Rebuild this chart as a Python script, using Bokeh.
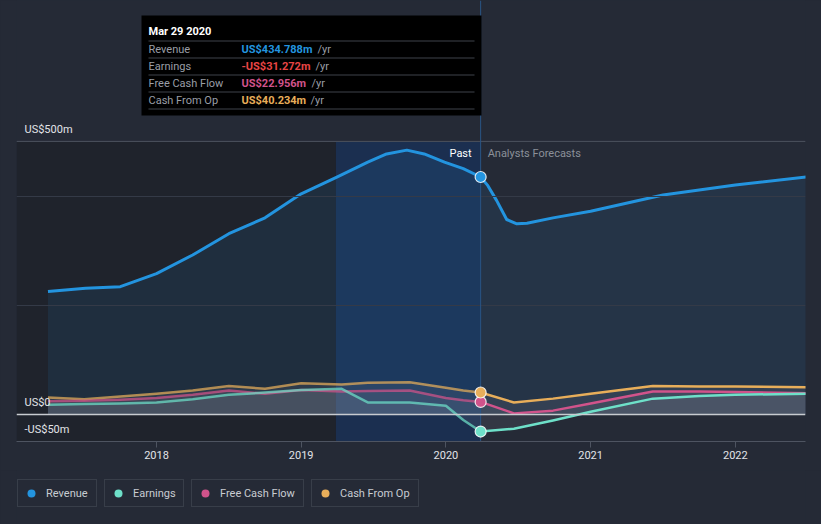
import numpy as np
from bokeh.plotting import figure
from bokeh.layouts import column
from bokeh.models import (Range1d, FixedTicker, Grid, Span, Label, BoxAnnotation,
                          Legend, LegendItem)
from bokeh.embed import file_html
from bokeh.resources import INLINE

# ---------------- data ----------------
rev_x = [2017.25, 2017.51, 2017.75, 2018.0, 2018.25, 2018.5, 2018.75, 2019.0, 2019.25, 2019.46,
         2019.59, 2019.73, 2019.85, 2019.99, 2020.12, 2020.24, 2020.29, 2020.35, 2020.42, 2020.49,
         2020.56, 2020.74, 2021.0, 2021.5, 2022.0, 2022.49]
revenue = [225, 231, 234, 258, 292, 331, 360, 404, 435, 462,
           477, 484, 477, 462, 450, 434.788, 419, 392, 357, 349,
           350, 360, 372, 402, 420, 435]

sm_x = [2017.25, 2017.5, 2017.75, 2018.0, 2018.25, 2018.5, 2018.75, 2019.0, 2019.28, 2019.46,
        2019.75, 2020.0, 2020.12, 2020.24, 2020.47, 2020.74, 2021.0, 2021.43, 2021.75, 2022.0, 2022.49]
earnings = [18, 19, 20, 22, 28, 36, 40, 45, 47, 22,
            22, 16, -10, -31.272, -26, -11, 5, 29, 34, 36, 38]
fcf = [24, 25, 27, 30, 36, 44, 38, 45, 42, 43,
       44, 30, 26, 22.956, 2, 7, 20, 42, 42, 41, 39]
cfo = [31, 28, 33, 38, 44, 52, 47, 57, 55, 58,
       59, 49, 44, 40.234, 22, 29, 38, 52, 51, 51, 50]

hover_x = 2020.24
hover_date = "Mar 29 2020"
past_start = 2019.24
year_ticks = [2018, 2019, 2020, 2021, 2022]
grid_ticks = [200, 400, 500]
y_labels = {500: "US$500m", 0: "US$0", -50: "-US$50m"}
series_names = ["Revenue", "Earnings", "Free Cash Flow", "Cash From Op"]
series_values_txt = ["US$434.788m", "-US$31.272m", "US$22.956m", "US$40.234m"]

# ---------------- style ----------------
BG = "#252a36"
C_REV = "#2394df"
C_EARN = "#6ee0c9"
C_FCF = "#d1538b"
C_CFO = "#e8ae5a"
C_EARN_TXT = "#e84545"
FONT = "Roboto"

X0, X1 = 2017.0325, 2022.485
Y0, Y1 = -49.5, 758.0
FL, FW, FH = 16, 789, 441
MAIN_H = 470


def sx(px):
    return X0 + (px - FL) / FW * (X1 - X0)


def sy(py):
    return Y1 - py / FH * (Y1 - Y0)


p = figure(width=821, height=MAIN_H, x_range=Range1d(X0, X1), y_range=Range1d(Y0, Y1),
           output_backend="svg", toolbar_location=None, y_axis_location=None,
           min_border_left=FL, min_border_right=821 - FL - FW, min_border_top=0,
           min_border_bottom=MAIN_H - FH)
p.background_fill_color = BG
p.border_fill_color = BG
p.outline_line_color = None
p.xgrid.visible = False
p.ygrid.visible = False

# background regions
p.quad(left=[X0], right=[past_start], bottom=[Y0], top=[500], fill_color="#1f232c",
       line_color=None, level="underlay")
p.quad(left=[past_start], right=[hover_x], bottom=[Y0], top=[500], fill_color="#1b2f50",
       line_color=None, level="underlay")

grid = Grid(dimension=1, ticker=FixedTicker(ticks=grid_ticks), grid_line_color="#343a47",
            grid_line_width=1, level="glyph")
p.add_layout(grid, "center")
top_grid = Span(location=500, dimension="width", line_color="#4a505c", line_width=1, level="glyph")
p.add_layout(top_grid)

vline = Span(location=hover_x, dimension="height", line_color="#2a5585", line_width=1, level="glyph")
p.add_layout(vline)

# areas
p.varea(x=rev_x, y1=0, y2=revenue, fill_color=C_REV, fill_alpha=0.1)
for vals in (cfo, fcf, earnings):
    p.varea(x=sm_x, y1=0, y2=vals, fill_color="#9aa0aa", fill_alpha=0.12)

# lines (past part of the small series a little muted, as in the reference)
hi = sm_x.index(hover_x)
hr = rev_x.index(hover_x)
p.line(rev_x, revenue, line_color=C_REV, line_width=3, line_join="round")
for vals, col in ((cfo, C_CFO), (fcf, C_FCF), (earnings, C_EARN)):
    p.line(sm_x[:hi + 1], vals[:hi + 1], line_color=col, line_width=2.5, line_alpha=0.72,
           line_join="round")
    p.line(sm_x[hi:], vals[hi:], line_color=col, line_width=2.5, line_join="round")

zero = Span(location=0, dimension="width", line_color="#c8cbd0", line_width=1.5)
p.add_layout(zero)

# hover dots
dot_vals = [revenue[hr], earnings[hi], fcf[hi], cfo[hi]]
dot_cols = [C_REV, C_EARN, C_FCF, C_CFO]
p.scatter(x=[hover_x] * 4, y=dot_vals, fill_color=dot_cols, line_color="white",
          line_alpha=0.85, line_width=1.2, size=11, level="overlay")

# x axis
ax = p.xaxis[0]
ax.ticker = FixedTicker(ticks=year_ticks)
ax.axis_line_color = "#4e5461"
ax.major_tick_line_color = "#4e5461"
ax.major_tick_out = 6
ax.major_tick_in = 0
ax.minor_tick_line_color = None
ax.major_label_text_color = "#e2e4e8"
ax.major_label_text_font = FONT
ax.major_label_text_font_size = "11px"
ax.major_label_standoff = 3

# y labels inside
for v, t in y_labels.items():
    yv = v if v >= 0 else 0
    yo = 12 if v >= 0 else -15
    p.add_layout(Label(x=X0, y=yv, x_offset=8, y_offset=yo, text=t, text_color="#e2e4e8",
                       text_font=FONT, text_font_size="11px", text_baseline="middle"))

# Past / forecast labels
p.add_layout(Label(x=hover_x, y=500, x_offset=-9, y_offset=-12, text="Past", text_align="right",
                   text_baseline="middle", text_color="#ffffff", text_font=FONT,
                   text_font_size="11px"))
p.add_layout(Label(x=hover_x, y=500, x_offset=7, y_offset=-12, text="Analysts Forecasts",
                   text_align="left", text_baseline="middle", text_color="#8b9099",
                   text_font=FONT, text_font_size="11px"))

# tooltip
p.add_layout(BoxAnnotation(left=sx(141), right=sx(481), top=sy(15), bottom=sy(115),
                           fill_color="#000000", fill_alpha=1, line_color=None, level="overlay"))
for py in (40, 57, 74, 91, 108):
    p.add_layout(BoxAnnotation(left=sx(148), right=sx(474), top=sy(py), bottom=sy(py + 1),
                               fill_color="#3f434b", fill_alpha=1, line_color=None,
                               level="overlay"))
p.add_layout(Label(x=sx(148), y=sy(31), text=hover_date, text_color="#ffffff", text_font=FONT,
                   text_font_size="11px", text_font_style="bold", text_baseline="middle",
                   level="overlay"))
val_cols = [C_REV, C_EARN_TXT, C_FCF, C_CFO]
yr_px = [317, 315, 311, 310]
for i, name in enumerate(series_names):
    cy = sy(48.5 + 17 * i)
    p.add_layout(Label(x=sx(148), y=cy, text=name, text_color="#9a9ea6", text_font=FONT,
                       text_font_size="11px", text_baseline="middle", level="overlay"))
    p.add_layout(Label(x=sx(241), y=cy, text=series_values_txt[i], text_color=val_cols[i],
                       text_font=FONT, text_font_size="11px", text_font_style="bold",
                       text_baseline="middle", level="overlay"))
    p.add_layout(Label(x=sx(yr_px[i]), y=cy, text="/yr", text_color="#9a9ea6", text_font=FONT,
                       text_font_size="11px", text_baseline="middle", level="overlay"))

# legend strip (one box per series)
LEG_H = 524 - MAIN_H
lg = figure(width=821, height=LEG_H, x_range=Range1d(0, 1), y_range=Range1d(0, 1),
            output_backend="svg", toolbar_location=None, x_axis_location=None,
            y_axis_location=None, min_border=0)
lg.background_fill_color = BG
lg.border_fill_color = BG
lg.outline_line_color = None
lg.xgrid.visible = False
lg.ygrid.visible = False

leg_x = [1, 88, 175, 295]
leg_w = [78, 78, 111, 106]
for i, name in enumerate(series_names):
    r = lg.scatter(x=[0.5], y=[0.5], fill_color=dot_cols[i], line_color=None,
                   size=8, visible=False)
    leg = Legend(items=[LegendItem(label=name, renderers=[r])], location=(leg_x[i], 17),
                 orientation="horizontal", padding=3, margin=0, spacing=0,
                 glyph_width=20, glyph_height=20, label_standoff=5,
                 label_width=leg_w[i] - 31, label_text_font=FONT,
                 label_text_font_size="11px", label_text_color="#c8ccd2",
                 background_fill_color=BG, background_fill_alpha=1,
                 border_line_color="#4b515c", border_line_width=1)
    lg.add_layout(leg)

layout = column(p, lg, spacing=0)
PAGE_CSS = ("{% block postamble %}<style>html, body { margin: 0; padding: 0; "
            "overflow: hidden; background: #252a36; }</style>{% endblock %}")
open("out.html", "w").write(file_html(layout, INLINE, title="chart", template=PAGE_CSS))
